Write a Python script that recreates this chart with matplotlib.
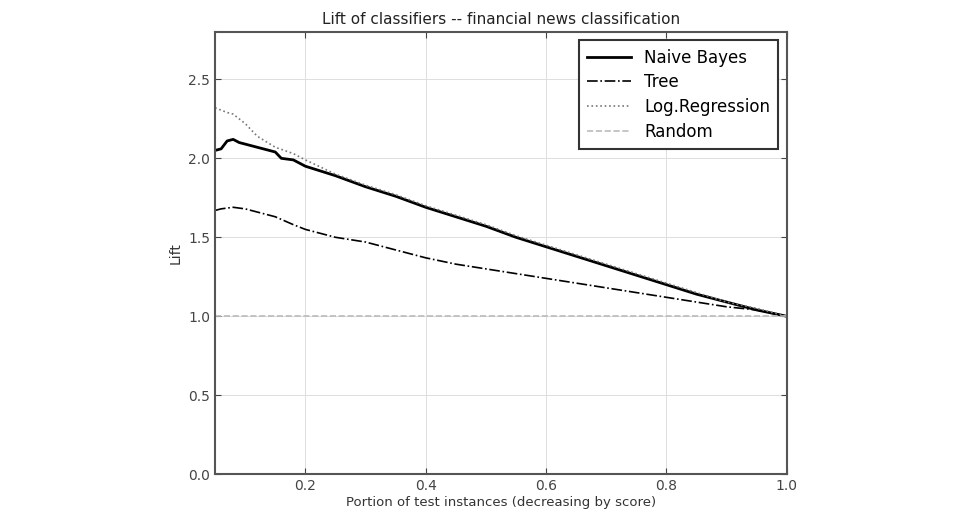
import matplotlib.pyplot as plt
import numpy as np

# Lift curves
nb_x = [0.05, 0.06, 0.07, 0.08, 0.09, 0.10, 0.12, 0.14, 0.15, 0.16, 0.18, 0.20, 0.25, 0.30,
        0.35, 0.40, 0.45, 0.50, 0.55, 0.60, 0.65, 0.70, 0.75, 0.80, 0.85, 0.90, 0.95, 1.00]
nb_y = [2.05, 2.06, 2.11, 2.12, 2.10, 2.09, 2.07, 2.05, 2.04, 2.00, 1.99, 1.95, 1.89, 1.82,
        1.76, 1.69, 1.63, 1.57, 1.50, 1.44, 1.38, 1.32, 1.26, 1.20, 1.14, 1.09, 1.04, 1.00]

lr_x = [0.05, 0.07, 0.08, 0.10, 0.12, 0.15, 0.18, 0.20, 0.25, 0.30,
        0.35, 0.40, 0.45, 0.50, 0.55, 0.60, 0.65, 0.70, 0.75, 0.80, 0.85, 0.90, 0.95, 1.00]
lr_y = [2.32, 2.29, 2.28, 2.22, 2.14, 2.07, 2.03, 1.99, 1.90, 1.83,
        1.77, 1.70, 1.64, 1.58, 1.51, 1.45, 1.39, 1.33, 1.27, 1.21, 1.15, 1.09, 1.05, 1.00]

tree_x = [0.05, 0.06, 0.08, 0.10, 0.12, 0.15, 0.18, 0.20, 0.25, 0.30, 0.35, 0.40,
          0.45, 0.50, 0.55, 0.60, 0.65, 0.70, 0.75, 0.80, 0.85, 0.90, 0.95, 1.00]
tree_y = [1.67, 1.68, 1.69, 1.68, 1.66, 1.63, 1.58, 1.55, 1.50, 1.47, 1.42, 1.37,
          1.33, 1.30, 1.27, 1.24, 1.21, 1.18, 1.15, 1.12, 1.09, 1.06, 1.04, 1.00]

rand_x = [0.05, 1.0]
rand_y = [1.0, 1.0]

fig = plt.figure(figsize=(9.56, 5.24), dpi=100)
ax = fig.add_axes([0.225, 0.095, 0.598, 0.844])

ax.plot(nb_x, nb_y, color='black', lw=2, label='Naive Bayes')
ax.plot(tree_x, tree_y, color='black', lw=1.2, ls='-.', label='Tree')
ax.plot(lr_x, lr_y, color='#777777', lw=1.2, ls=':', label='Log.Regression')
ax.plot(rand_x, rand_y, color='#bbbbbb', lw=1.2, ls='--', label='Random')

ax.set_xlim(0.05, 1.0)
ax.set_ylim(0, 2.8)
ax.set_xticks([0.2, 0.4, 0.6, 0.8, 1.0])
ax.set_yticks([0.0, 0.5, 1.0, 1.5, 2.0, 2.5])
ax.tick_params(labelsize=10, colors='#444444', direction='in', length=4,
               top=True, right=True)
ax.grid(True, color='#dddddd', ls='-', lw=0.7)
for s in ax.spines.values():
    s.set_color('#555555')
    s.set_linewidth(1.5)

ax.set_title('Lift of classifiers -- financial news classification', fontsize=11, color='#222222')
ax.set_xlabel('Portion of test instances (decreasing by score)', fontsize=9.5, color='#333333', labelpad=2)
ax.set_ylabel('Lift', fontsize=10, color='#333333')

leg = ax.legend(loc='upper right', fontsize=12, fancybox=False, edgecolor='#333333',
                framealpha=1, borderaxespad=0.5, handlelength=2.6, labelspacing=0.4,
                borderpad=0.5)
leg.get_frame().set_linewidth(1.5)

plt.savefig('out.png', dpi=100)
